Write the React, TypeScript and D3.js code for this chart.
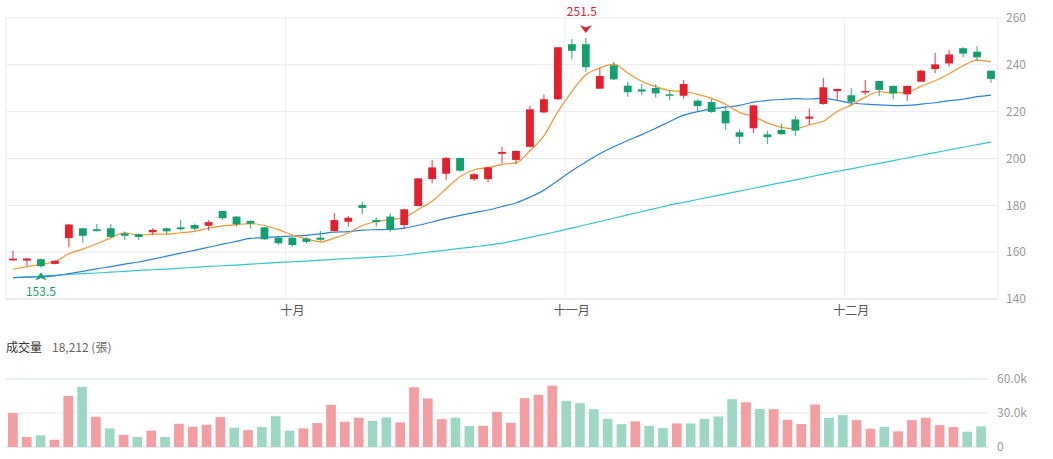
import React, { useRef, useEffect } from 'react';
import * as d3 from 'd3';

// daily OHLC (元)
const opens = [156.5, 156.4, 157.0, 155.0, 166.0, 170.2, 169.8, 170.2, 168.0, 167.7, 168.5, 170.2, 170.6, 171.6, 171.3, 177.6, 175.2, 173.3, 170.6, 166.2, 166.2, 165.8, 166.2, 169.0, 173.0, 180.1, 173.7, 175.2, 171.6, 179.7, 191.2, 193.5, 200.2, 191.2, 191.2, 202.0, 199.4, 205.0, 219.7, 225.3, 248.8, 248.8, 229.8, 239.8, 231.1, 229.5, 230.1, 227.4, 226.8, 224.7, 224.1, 220.3, 211.2, 212.9, 210.3, 212.2, 216.7, 217.0, 223.3, 228.8, 227.0, 228.3, 233.1, 231.0, 227.4, 232.8, 238.2, 240.6, 247.1, 245.6, 237.5];
const highs = [160.6, 157.4, 157.3, 156.5, 172.0, 170.3, 172.0, 172.0, 168.8, 168.0, 170.2, 170.3, 173.7, 172.2, 173.7, 177.7, 175.4, 173.7, 170.8, 166.4, 166.4, 166.4, 169.0, 176.6, 175.4, 181.6, 174.9, 176.6, 178.5, 191.6, 199.4, 200.8, 200.3, 193.7, 196.5, 205.0, 203.5, 222.4, 227.3, 247.6, 251.0, 251.5, 238.5, 241.3, 232.8, 231.8, 231.8, 229.3, 233.5, 225.3, 225.4, 222.4, 212.5, 222.8, 211.9, 215.0, 218.1, 221.4, 234.4, 229.8, 230.0, 233.5, 233.2, 231.2, 231.1, 238.0, 245.2, 246.3, 247.5, 248.0, 237.6];
const lows = [156.4, 154.1, 153.5, 154.8, 162.1, 164.0, 168.8, 166.0, 165.3, 165.2, 167.3, 167.6, 169.2, 169.3, 169.2, 173.7, 170.9, 170.0, 165.3, 163.0, 162.3, 163.6, 164.8, 169.0, 171.0, 176.3, 171.0, 168.5, 170.0, 179.5, 189.4, 190.8, 194.3, 190.4, 189.8, 198.0, 197.7, 204.8, 219.3, 225.0, 242.5, 237.0, 229.8, 233.5, 226.4, 227.1, 226.0, 225.0, 225.5, 220.0, 219.5, 212.2, 206.2, 210.8, 206.2, 210.0, 209.6, 214.3, 223.0, 225.0, 222.8, 227.1, 226.7, 225.3, 224.7, 232.8, 236.4, 239.2, 243.2, 241.6, 232.4];
const closes = [157.2, 157.3, 154.0, 156.3, 171.8, 167.0, 169.0, 166.5, 167.0, 166.5, 169.5, 168.9, 169.8, 170.0, 172.8, 174.5, 171.9, 172.2, 165.5, 163.8, 163.0, 164.4, 165.3, 173.7, 174.7, 178.9, 172.9, 169.5, 178.3, 191.5, 196.2, 200.2, 194.8, 193.3, 196.2, 202.8, 203.2, 221.0, 225.3, 247.5, 246.0, 239.0, 235.2, 233.8, 228.3, 228.6, 227.8, 226.8, 231.8, 222.4, 219.9, 215.0, 209.3, 222.7, 209.1, 210.4, 211.9, 217.9, 230.4, 229.7, 224.2, 228.8, 229.3, 227.8, 231.0, 237.5, 240.2, 244.4, 244.8, 243.2, 234.0];
// 成交量 (張)
const volumes = [29900, 8800, 10300, 6400, 45100, 53000, 26700, 16400, 10800, 8800, 14400, 8800, 20500, 17900, 19600, 26400, 17000, 14900, 17600, 27200, 14400, 16400, 21100, 37200, 22300, 25800, 23100, 26100, 21700, 52700, 42800, 24600, 25800, 18500, 18700, 31000, 21400, 43100, 46000, 54200, 40700, 38700, 33400, 24900, 20200, 22600, 18700, 16700, 20800, 20800, 24900, 26900, 42200, 39500, 33700, 33400, 24000, 20200, 37500, 25800, 28100, 23700, 16100, 17900, 13800, 23700, 25800, 19300, 17600, 13500, 18212];
// moving averages
const ma5 = [152.7, 153.8, 154.8, 156.0, 159.3, 161.3, 163.6, 166.1, 168.3, 167.2, 167.7, 167.7, 168.3, 168.9, 170.2, 171.2, 171.8, 172.2, 171.4, 169.6, 167.3, 165.7, 164.4, 166.0, 168.2, 171.4, 173.1, 173.9, 174.9, 178.2, 181.7, 187.1, 192.2, 195.2, 196.1, 197.5, 198.1, 203.3, 209.7, 220.0, 228.6, 235.8, 238.6, 240.3, 236.5, 233.0, 230.7, 229.0, 228.6, 227.4, 225.7, 223.2, 219.7, 217.9, 215.2, 213.3, 212.7, 214.4, 215.9, 220.1, 222.8, 226.2, 228.5, 228.0, 228.2, 230.9, 233.2, 236.2, 239.6, 242.0, 241.3];
const ma20 = [149.1, 149.3, 149.5, 149.9, 150.8, 151.8, 152.9, 153.8, 154.9, 155.8, 157.0, 158.3, 159.6, 160.8, 162.1, 163.4, 164.6, 165.9, 166.2, 166.6, 166.9, 167.2, 167.8, 168.6, 168.8, 169.4, 169.6, 169.7, 170.3, 171.5, 172.9, 174.4, 175.7, 176.9, 178.0, 179.5, 181.0, 183.5, 186.5, 190.6, 194.8, 198.5, 202.0, 205.0, 207.7, 210.2, 212.9, 215.8, 218.5, 220.0, 221.2, 221.9, 222.7, 224.1, 224.8, 225.2, 225.6, 225.4, 225.7, 224.8, 223.7, 223.2, 222.9, 222.6, 222.7, 223.2, 223.8, 224.7, 225.3, 226.4, 227.1];
const ma60 = [149.1, 149.4, 149.8, 150.1, 150.5, 150.8, 151.1, 151.5, 151.8, 152.2, 152.5, 152.8, 153.2, 153.5, 153.9, 154.2, 154.5, 154.9, 155.2, 155.6, 155.9, 156.2, 156.6, 156.9, 157.3, 157.6, 158.0, 158.3, 158.8, 159.5, 160.2, 160.9, 161.6, 162.3, 163.0, 163.9, 165.0, 166.3, 167.6, 168.9, 170.3, 171.7, 173.1, 174.5, 175.9, 177.3, 178.7, 180.1, 181.3, 182.5, 183.7, 184.9, 186.1, 187.3, 188.5, 189.7, 190.9, 192.1, 193.3, 194.5, 195.6, 196.8, 197.9, 199.1, 200.2, 201.4, 202.5, 203.7, 204.8, 205.9, 207.0];

const monthLabels = ['十月', '十一月', '十二月'];
const monthStarts = [20, 40, 60];
const priceTicks = [140, 160, 180, 200, 220, 240, 260];
const volumeTicks = [0, 30000, 60000];

const UP = '#e3202c';
const DOWN = '#13a06e';
const FONT = '"Noto Sans CJK TC", "Noto Sans", sans-serif';

const App = () => {
  const ref = useRef<SVGSVGElement>(null);

  useEffect(() => {
    const svg = d3.select(ref.current);
    svg.selectAll('*').remove();

    const idx = d3.range(closes.length);

    // price panel scales
    const x = d3.scaleBand<number>().domain(idx).range([6, 998]);
    const y = d3.scaleLinear().domain([140, 260]).range([299, 18]);
    const cx = (i: number) => (x(i) as number) + x.bandwidth() / 2;

    // volume panel scales
    const xv = d3.scaleBand<number>().domain(idx).range([6, 988]);
    const yv = d3.scaleLinear().domain([0, 60000]).range([447, 379]);

    // grid
    const grid = svg.append('g');
    grid.selectAll('line.h')
      .data(priceTicks)
      .join('line')
      .attr('x1', 6).attr('x2', 998)
      .attr('y1', d => y(d)).attr('y2', d => y(d))
      .attr('stroke', d => (d === 140 ? '#d5d8df' : '#e6e9f0'))
      .attr('stroke-width', 1);
    grid.selectAll('line.v')
      .data(monthStarts)
      .join('line')
      .attr('x1', d => x(d) as number).attr('x2', d => x(d) as number)
      .attr('y1', 18).attr('y2', 299)
      .attr('stroke', '#eceef3');
    [6, 998].forEach(px => {
      grid.append('line')
        .attr('x1', px).attr('x2', px).attr('y1', 18).attr('y2', 299)
        .attr('stroke', '#e6e9f0');
    });

    // price labels
    svg.append('g')
      .selectAll('text')
      .data(priceTicks)
      .join('text')
      .attr('x', 1006)
      .attr('y', d => y(d))
      .attr('dy', '0.35em')
      .attr('font-size', 12)
      .attr('fill', '#999')
      .text(d => d);

    // month labels
    svg.append('g')
      .selectAll('text')
      .data(monthStarts)
      .join('text')
      .attr('x', d => cx(d))
      .attr('y', 311)
      .attr('dy', '0.35em')
      .attr('text-anchor', 'middle')
      .attr('font-size', 12)
      .attr('fill', '#555')
      .text((d, i) => monthLabels[i]);

    // moving averages
    const lineGen = (vals: number[]) =>
      d3.line<number>()
        .x((d, i) => cx(i))
        .y(d => y(d))
        .curve(d3.curveMonotoneX)(vals);
    const maG = svg.append('g').attr('fill', 'none').attr('stroke-width', 1.2);
    maG.append('path').attr('d', lineGen(ma60)).attr('stroke', '#33c9c9');
    maG.append('path').attr('d', lineGen(ma20)).attr('stroke', '#2b83e0');
    maG.append('path').attr('d', lineGen(ma5)).attr('stroke', '#f5952f');

    // candles
    const bodyW = x.bandwidth() * 0.56;
    const candles = svg.append('g')
      .selectAll('g')
      .data(idx)
      .join('g');
    candles.append('line')
      .attr('x1', i => cx(i)).attr('x2', i => cx(i))
      .attr('y1', i => y(highs[i])).attr('y2', i => y(lows[i]))
      .attr('stroke', i => (closes[i] >= opens[i] ? UP : DOWN))
      .attr('stroke-opacity', 0.75)
      .attr('stroke-width', 1.2);
    candles.append('rect')
      .attr('x', i => cx(i) - bodyW / 2)
      .attr('width', bodyW)
      .attr('y', i => y(Math.max(opens[i], closes[i])))
      .attr('height', i => Math.max(1.5, Math.abs(y(opens[i]) - y(closes[i]))))
      .attr('fill', i => (closes[i] >= opens[i] ? UP : DOWN));

    // max / min marks
    const hiIdx = d3.maxIndex(highs);
    const loIdx = d3.minIndex(lows);
    const arrow = 'M0,4 L-6,-4 L0,-1.5 L6,-4 Z';
    svg.append('path')
      .attr('d', arrow)
      .attr('transform', `translate(${cx(hiIdx)},${y(highs[hiIdx]) - 9})`)
      .attr('fill', UP);
    svg.append('text')
      .attr('x', cx(hiIdx) - 4).attr('y', 12).attr('dy', '0.35em')
      .attr('text-anchor', 'middle').attr('font-size', 12).attr('fill', UP)
      .text(highs[hiIdx]);
    svg.append('path')
      .attr('d', arrow)
      .attr('transform', `translate(${cx(loIdx)},${y(lows[loIdx]) + 9}) rotate(180)`)
      .attr('fill', DOWN);
    svg.append('text')
      .attr('x', cx(loIdx)).attr('y', 292).attr('dy', '0.35em')
      .attr('text-anchor', 'middle').attr('font-size', 12).attr('fill', DOWN)
      .text(lows[loIdx]);

    // volume header
    const head = svg.append('text').attr('x', 6).attr('y', 348).attr('dy', '0.35em').attr('font-size', 12);
    head.append('tspan').attr('fill', '#333').text('成交量');
    head.append('tspan').attr('x', 52).attr('fill', '#666')
      .text(`${d3.format(',')(volumes[volumes.length - 1])} (張)`);

    // volume grid
    svg.append('g')
      .selectAll('line')
      .data(volumeTicks)
      .join('line')
      .attr('x1', 6).attr('x2', 988)
      .attr('y1', d => yv(d)).attr('y2', d => yv(d))
      .attr('stroke', d => (d === 0 ? '#d5d8df' : d === 60000 ? '#e3e8f2' : '#e6e7eb'))
      .attr('stroke-width', d => (d === 60000 ? 1.5 : 1));
    svg.append('g')
      .selectAll('text')
      .data(volumeTicks)
      .join('text')
      .attr('x', 997)
      .attr('y', d => yv(d))
      .attr('dy', '0.35em')
      .attr('font-size', 12)
      .attr('fill', '#999')
      .text(d => (d === 0 ? '0' : `${(d / 1000).toFixed(1)}k`));

    // volume bars, coloured by change against previous close
    const vbW = xv.bandwidth() * 0.7;
    svg.append('g')
      .selectAll('rect')
      .data(idx)
      .join('rect')
      .attr('x', i => (xv(i) as number) + (xv.bandwidth() - vbW) / 2)
      .attr('width', vbW)
      .attr('y', i => yv(volumes[i]))
      .attr('height', i => yv(0) - yv(volumes[i]))
      .attr('fill', i => (i === 0 || closes[i] >= closes[i - 1] ? '#f29ea3' : '#9ed8c4'));
  }, []);

  return (
    <svg
      ref={ref}
      width={1053}
      height={459}
      style={{ position: 'absolute', left: 0, top: 0, fontFamily: FONT, background: '#fff' }}
    />
  );
};

export default App;
